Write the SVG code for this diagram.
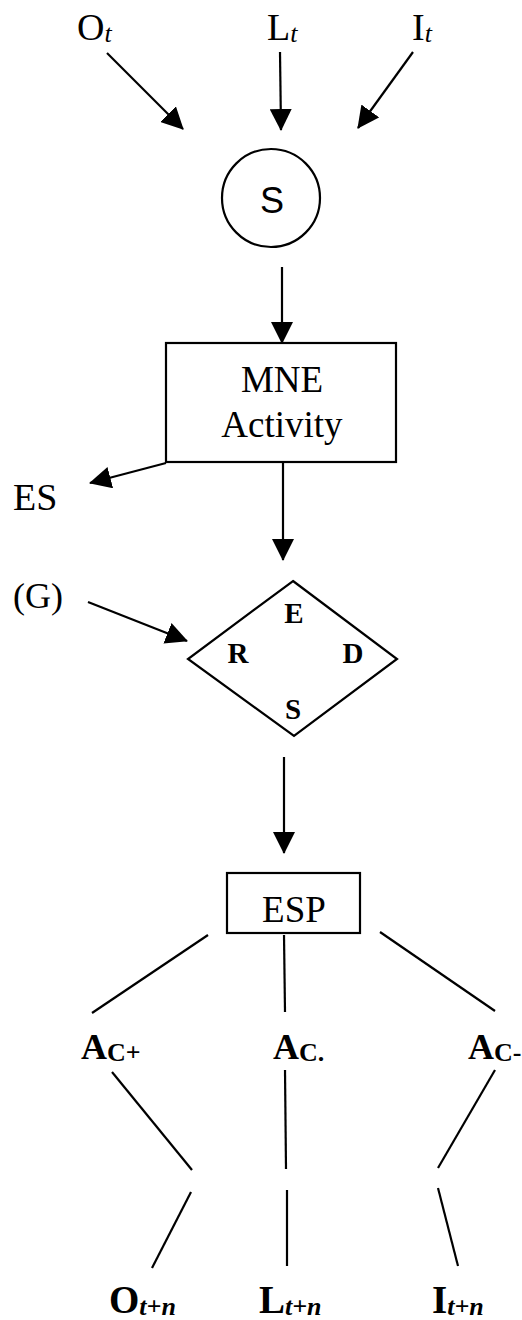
<svg xmlns="http://www.w3.org/2000/svg" width="522" height="1320" viewBox="0 0 522 1320">
  <defs>
    <style>
      .lbl { font-family: "Liberation Serif", "DejaVu Serif", serif; fill: #000; }
      .big { font-size: 38px; }
      .bold { font-weight: bold; }
      .sub { font-style: italic; font-size: 26px; }
      .ac { font-family: "Liberation Serif", "DejaVu Serif", serif; font-size: 26px; font-weight: bold; }
      .node { fill: #fff; stroke: #000; stroke-width: 2.2; }
      .edge { fill: none; stroke: #000; stroke-width: 2.2; }
      .dia { font-family: "Liberation Serif", "DejaVu Serif", serif; font-size: 29px; font-weight: bold; text-anchor: middle; }
    </style>
    <marker id="arrow" viewBox="0 0 22 22" markerUnits="userSpaceOnUse" markerWidth="22" markerHeight="22" refX="21" refY="11" orient="auto">
      <path d="M0,0 L22,11 L0,22 Z" fill="#000"/>
    </marker>
  </defs>

  <rect x="0" y="0" width="522" height="1320" fill="#fff"/>

  <!-- connectors -->
  <g id="connectors">
    <line class="edge" x1="107" y1="53" x2="183" y2="129" marker-end="url(#arrow)"/>
    <line class="edge" x1="280" y1="52" x2="281" y2="130" marker-end="url(#arrow)"/>
    <line class="edge" x1="413" y1="52" x2="358" y2="128" marker-end="url(#arrow)"/>
    <line class="edge" x1="282" y1="267" x2="282" y2="343" marker-end="url(#arrow)"/>
    <line class="edge" x1="166" y1="463" x2="90" y2="483" marker-end="url(#arrow)"/>
    <line class="edge" x1="283" y1="463" x2="283" y2="560" marker-end="url(#arrow)"/>
    <line class="edge" x1="88" y1="602" x2="187" y2="641" marker-end="url(#arrow)"/>
    <line class="edge" x1="284" y1="757" x2="284" y2="853" marker-end="url(#arrow)"/>
    <line class="edge" x1="208" y1="935" x2="92" y2="1013"/>
    <line class="edge" x1="284" y1="935" x2="285" y2="1012"/>
    <line class="edge" x1="380" y1="932" x2="495" y2="1011"/>
    <line class="edge" x1="112" y1="1072" x2="192" y2="1170"/>
    <line class="edge" x1="191" y1="1192" x2="152" y2="1268"/>
    <line class="edge" x1="285" y1="1070" x2="286" y2="1169"/>
    <line class="edge" x1="287" y1="1190" x2="287" y2="1266"/>
    <line class="edge" x1="495" y1="1070" x2="438" y2="1168"/>
    <line class="edge" x1="438" y1="1188" x2="458" y2="1266"/>
  </g>

  <!-- inputs at time t -->
  <g id="Ot"><text class="lbl big" x="77" y="40">O<tspan class="sub" dy="2">t</tspan></text></g>
  <g id="Lt"><text class="lbl big" x="267" y="40">L<tspan class="sub" dy="2">t</tspan></text></g>
  <g id="It"><text class="lbl big" x="412" y="40">I<tspan class="sub" dy="2">t</tspan></text></g>

  <!-- stimulus -->
  <g id="S">
    <circle class="node" cx="271" cy="198" r="49" stroke-width="3"/>
    <text x="272" y="213" font-family="'Liberation Sans', Arial, sans-serif" font-size="36" text-anchor="middle">S</text>
  </g>

  <!-- MNE activity -->
  <g id="MNE">
    <rect class="node" x="166" y="343" width="230" height="119"/>
    <text class="lbl" x="282" y="392" font-size="37" text-anchor="middle">MNE</text>
    <text class="lbl" x="282" y="437" font-size="37" text-anchor="middle">Activity</text>
  </g>

  <g id="ES"><text class="lbl" x="13" y="510" font-size="38">ES</text></g>
  <g id="G"><text class="lbl" x="13" y="608" font-size="36">(G)</text></g>

  <!-- E / R / D / S diamond -->
  <g id="ERDS">
    <polygon class="node" points="293,581 397,659 294,736 188,659"/>
    <text class="dia" x="294" y="623">E</text>
    <text class="dia" x="238" y="663">R</text>
    <text class="dia" x="353" y="663">D</text>
    <text class="dia" x="293" y="719">S</text>
  </g>

  <!-- ESP -->
  <g id="ESP">
    <rect class="node" x="227" y="873" width="133" height="60"/>
    <text class="lbl" x="294" y="922" font-size="37" text-anchor="middle">ESP</text>
  </g>

  <!-- action alternatives -->
  <g id="ACplus"><text class="lbl bold" x="81" y="1059" font-size="36">A<tspan class="ac" dy="2">C+</tspan></text></g>
  <g id="AC"><text class="lbl bold" x="273" y="1059" font-size="36">A<tspan class="ac" dy="2">C.</tspan></text></g>
  <g id="ACminus"><text class="lbl bold" x="468" y="1059" font-size="36">A<tspan class="ac" dy="2">C-</tspan></text></g>

  <!-- outcomes at time t+n -->
  <g id="Otn"><text class="lbl bold" x="109" y="1313" font-size="39">O<tspan class="sub" dy="2">t+n</tspan></text></g>
  <g id="Ltn"><text class="lbl bold" x="259" y="1313" font-size="39">L<tspan class="sub" dy="2">t+n</tspan></text></g>
  <g id="Itn"><text class="lbl bold" x="432" y="1313" font-size="39">I<tspan class="sub" dy="2">t+n</tspan></text></g>
</svg>
